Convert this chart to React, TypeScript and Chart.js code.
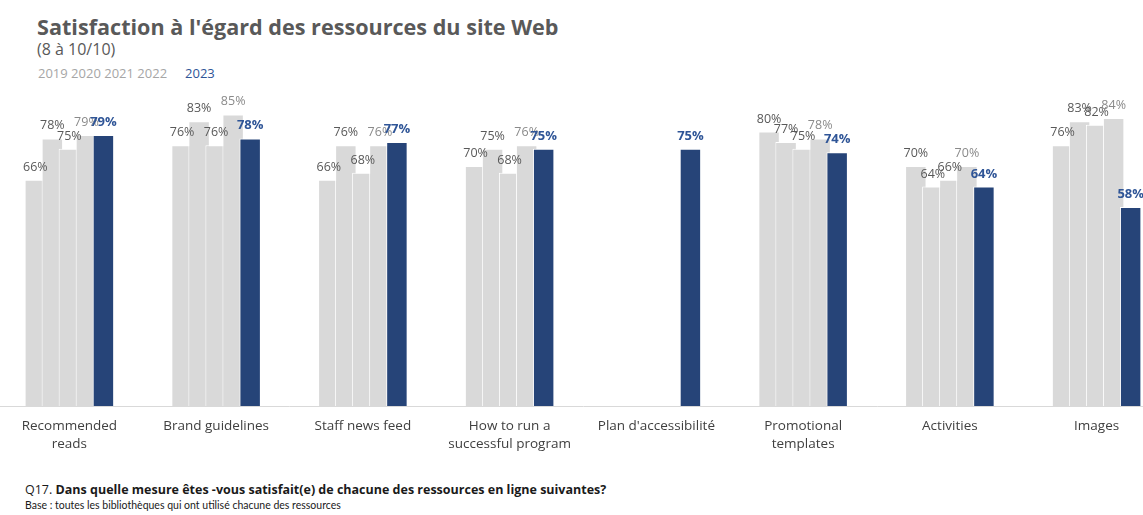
import React, { useEffect, useRef } from 'react';
import { Chart, registerables } from 'chart.js';

Chart.register(...registerables);

// ---- Data ----
const categories: string[][] = [
  ['Recommended', 'reads'],
  ['Brand guidelines'],
  ['Staff news feed'],
  ['How to run a', 'successful program'],
  ["Plan d'accessibilité"],
  ['Promotional', 'templates'],
  ['Activities'],
  ['Images'],
];
const years = ['2019', '2020', '2021', '2022', '2023'];
const values2019 = [66, 76, 66, 70, null, 80, 70, 76];
const values2020 = [78, 83, 76, 75, null, 77, 64, 83];
const values2021 = [75, 76, 68, 68, null, 75, 66, 82];
const values2022 = [79, 85, 76, 76, null, 78, 70, 84];
const values2023 = [79, 78, 77, 75, 75, 74, 64, 58];
const yTicks = [0, 100];

const GREY = '#D9D9D9';
const BLUE = '#264478';
const labelColors = ['#595959', '#595959', '#595959', '#8a8a8a', '#2F5597'];

// draw datasets so that later years sit on top of earlier ones
const layerPlugin = {
  id: 'layerOrder',
  beforeDatasetsDraw(chart: any) {
    const metas = chart.getSortedVisibleDatasetMetas();
    for (const meta of metas) meta.controller.draw();
    return false;
  },
};

const valueLabelPlugin = {
  id: 'valueLabels',
  afterDraw(chart: any) {
    const ctx = chart.ctx;
    chart.data.datasets.forEach((ds: any, di: number) => {
      const meta = chart.getDatasetMeta(di);
      meta.data.forEach((bar: any, i: number) => {
        const v = ds.data[i];
        if (v === null || v === undefined) return;
        ctx.save();
        ctx.font = di === 4 ? 'bold 13px "Open Sans"' : '12.5px "Open Sans"';
        ctx.fillStyle = labelColors[di];
        ctx.textAlign = 'center';
        ctx.textBaseline = 'alphabetic';
        ctx.fillText(v + '%', bar.x, bar.y - 9);
        ctx.restore();
      });
    });
  },
};

export default function App() {
  const canvasRef = useRef<HTMLCanvasElement | null>(null);

  useEffect(() => {
    if (!canvasRef.current) return;
    const series = [values2019, values2020, values2021, values2022, values2023];
    const chart = new Chart(canvasRef.current, {
      type: 'bar',
      data: {
        labels: categories,
        datasets: series.map((vals, i) => ({
          label: years[i],
          data: vals,
          backgroundColor: i === 4 ? BLUE : GREY,
          borderColor: '#FFFFFF',
          borderWidth: 1,
          borderSkipped: 'start',
          categoryPercentage: 0.58,
          barPercentage: 1.26,
        })),
      },
      options: {
        animation: false,
        responsive: true,
        maintainAspectRatio: false,
        layout: { padding: { top: 3, bottom: 8, left: 0, right: 0 } },
        plugins: {
          legend: { display: false },
          tooltip: { enabled: false },
          title: { display: false },
        },
        scales: {
          x: {
            offset: true,
            grid: { display: false },
            border: { display: true, color: '#D9D9D9', width: 1 },
            ticks: {
              color: '#404040',
              font: { family: '"Open Sans"', size: 13.5, lineHeight: 1.33 },
              padding: 3,
              maxRotation: 0,
              autoSkip: false,
            },
          },
          y: {
            display: false,
            min: yTicks[0],
            max: yTicks[1],
          },
        },
      },
      plugins: [layerPlugin, valueLabelPlugin],
    });
    return () => chart.destroy();
  }, []);

  return (
    <div
      style={{
        position: 'fixed',
        left: 0,
        top: 0,
        width: 1143,
        height: 515,
        overflow: 'hidden',
        background: '#FFFFFF',
        fontFamily: '"Open Sans", sans-serif',
      }}
    >
      <div
        style={{
          position: 'absolute',
          left: 37,
          top: 13,
          fontSize: 21.6,
          lineHeight: '28px',
          fontWeight: 700,
          color: '#595959',
          whiteSpace: 'nowrap',
        }}
      >
        Satisfaction à l'égard des ressources du site Web
      </div>
      <div
        style={{
          position: 'absolute',
          left: 37,
          top: 39,
          fontSize: 16,
          lineHeight: '20px',
          color: '#595959',
          whiteSpace: 'nowrap',
        }}
      >
        (8 à 10/10)
      </div>
      <div
        style={{
          position: 'absolute',
          left: 38,
          top: 64,
          fontSize: 13,
          lineHeight: '18px',
          whiteSpace: 'nowrap',
        }}
      >
        <span style={{ color: '#A6A6A6' }}>{years.slice(0, 4).join(' ')}</span>
        <span style={{ color: '#2F5597', marginLeft: 18 }}>{years[4]}</span>
      </div>
      <div style={{ position: 'absolute', left: -4, top: 60, width: 1174, height: 404 }}>
        <canvas ref={canvasRef} />
      </div>
      <div
        style={{
          position: 'absolute',
          left: 25,
          top: 482,
          color: '#1a1a1a',
          whiteSpace: 'nowrap',
        }}
      >
        <div style={{ fontFamily: '"Open Sans", sans-serif', fontSize: 12.5, lineHeight: '16px' }}>
          Q17. <b>Dans quelle mesure êtes -vous satisfait(e) de chacune des ressources en ligne suivantes?</b>
        </div>
        <div style={{ fontFamily: 'Lato, sans-serif', fontSize: 10.5, lineHeight: '14px' }}>
          Base : toutes les bibliothèques qui ont utilisé chacune des ressources
        </div>
      </div>
    </div>
  );
}
